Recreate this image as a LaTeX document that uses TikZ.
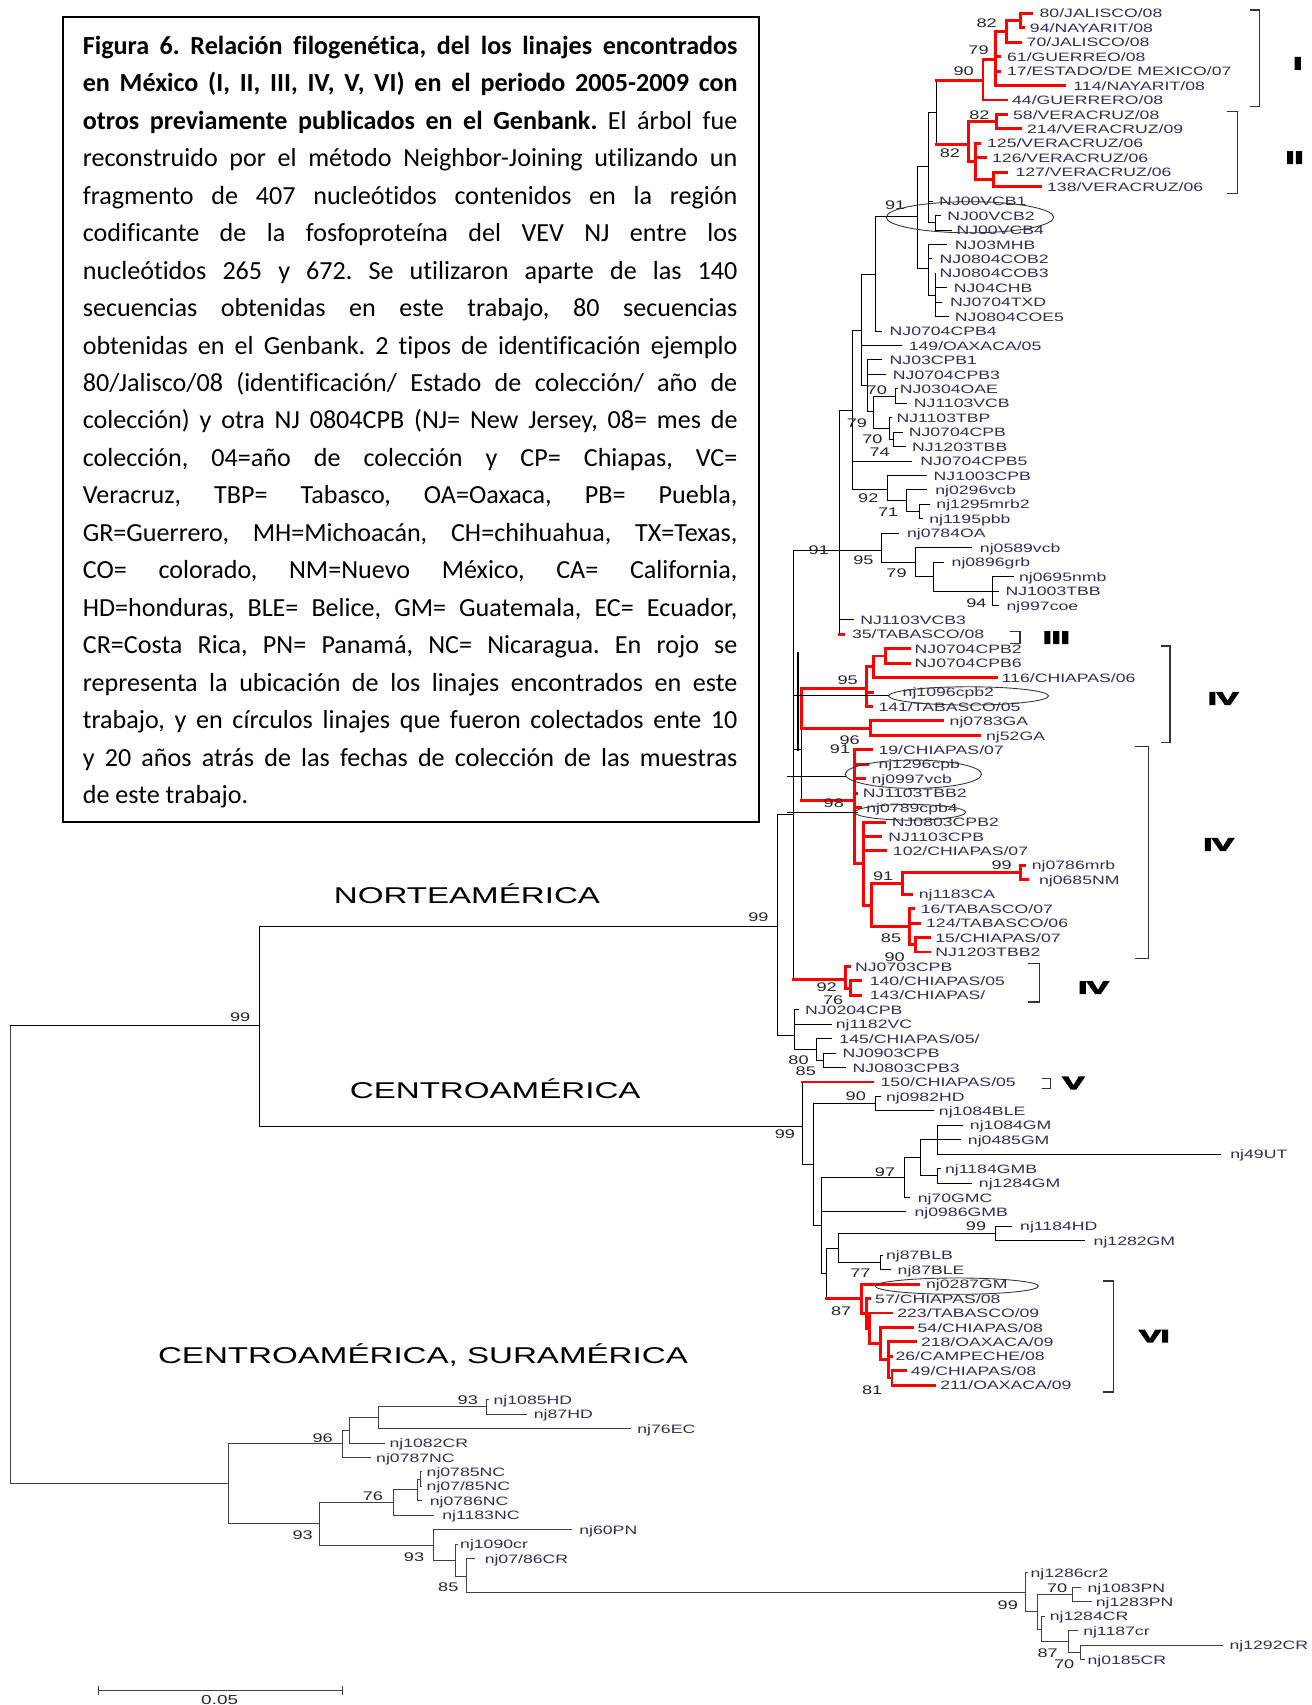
\documentclass[tikz,border=0pt]{standalone}
\usepackage{fontspec}
\setmainfont{Carlito}[Ligatures={NoCommon}]
\newfontfamily\treefont[FakeStretch=1.45]{Liberation Sans}
\newfontfamily\grpfont[FakeStretch=1.9, BoldFeatures={FakeBold=9}]{Liberation Sans}
\definecolor{labtxt}{RGB}{52,46,84}
\frenchspacing
\tikzset{
 br/.style={draw=black, line width=0.85pt, line cap=rect},
 gbr/.style={draw=black!75, line width=0.85pt, line cap=rect},
 rb/.style={draw=red, line width=2.7pt, line cap=rect},
 lab/.style={anchor=base west, inner sep=0pt, text=labtxt, font=\treefont\fontsize{11.2}{12}\selectfont},
 bs/.style={inner sep=0pt, text=black!85, font=\treefont\fontsize{11.5}{12}\selectfont},
 grp/.style={inner sep=0pt, font=\grpfont\bfseries\fontsize{15.5}{16}\selectfont},
 reg/.style={inner sep=0pt, font=\treefont\fontsize{21}{24}\selectfont},
 brk/.style={draw=black!80, line width=1.2pt},
 ell/.style={draw=black!80, line width=0.8pt},
 capl/.style={anchor=base west, inner sep=0pt, font=\fontsize{24}{28}\selectfont},
}
\newcommand\LeafB[5]{\draw[br] (#2,#1) -- (#3,#1); \node[lab] (l#1) at (#4,#1+0.32) {#5};}
\newcommand\LeafG[5]{\draw[gbr] (#2,#1) -- (#3,#1); \node[lab] (l#1) at (#4,#1+0.32) {#5};}
\newcommand\LeafR[5]{\draw[rb] (#2,#1) -- (#3,#1); \node[lab] (l#1) at (#4,#1+0.32) {#5};}
\newcommand\Vb[3]{\draw[br] (#1,#2) -- (#1,#3);}
\newcommand\Hb[3]{\draw[br] (#2,#1) -- (#3,#1);}
\newcommand\Vg[3]{\draw[gbr] (#1,#2) -- (#1,#3);}
\newcommand\Hg[3]{\draw[gbr] (#2,#1) -- (#3,#1);}
\newcommand\Vr[3]{\draw[rb] (#1,#2) -- (#1,#3);}
\newcommand\Hr[3]{\draw[rb] (#2,#1) -- (#3,#1);}
\newcommand\jl[1]{\makebox[602pt][s]{#1}}
\begin{document}
\begin{tikzpicture}[x=1pt,y=-1pt]
\useasboundingbox (0,0) rectangle (1206,1568);
\fill[white] (0,0) rectangle (1206,1568);

% ---------- caption ----------
\node[draw=black, line width=1.5pt, minimum width=640pt, minimum height=740pt, anchor=north west, inner sep=0pt] (capbox) at (57,15) {};
\node[capl] (c1) at (76,50) {\jl{\textbf{Figura 6. Relación filogenética, del los linajes encontrados}}};
\node[capl] (c2) at (76,84.45) {\jl{\textbf{en México (I, II, III, IV, V, VI) en el periodo 2005-2009 con}}};
\node[capl] (c3) at (76,118.9) {\jl{\textbf{otros previamente publicados en el Genbank.} El árbol fue}};
\node[capl] (c4) at (76,153.35) {\jl{reconstruido por el método Neighbor-Joining utilizando un}};
\node[capl] (c5) at (76,187.8) {\jl{fragmento de 407 nucleótidos contenidos en la región}};
\node[capl] (c6) at (76,222.25) {\jl{codificante de la fosfoproteína del VEV NJ entre los}};
\node[capl] (c7) at (76,256.7) {\jl{nucleótidos 265 y 672. Se utilizaron aparte de las 140}};
\node[capl] (c8) at (76,291.15) {\jl{secuencias obtenidas en este trabajo, 80 secuencias}};
\node[capl] (c9) at (76,325.6) {\jl{obtenidas en el Genbank. 2 tipos de identificación ejemplo}};
\node[capl] (c10) at (76,360.05) {\jl{80/Jalisco/08 (identificación/ Estado de colección/ año de}};
\node[capl] (c11) at (76,394.5) {\jl{colección) y otra NJ 0804CPB (NJ= New Jersey, 08= mes de}};
\node[capl] (c12) at (76,428.95) {\jl{colección, 04=año de colección y CP= Chiapas, VC=}};
\node[capl] (c13) at (76,463.4) {\jl{Veracruz, TBP= Tabasco, OA=Oaxaca, PB= Puebla,}};
\node[capl] (c14) at (76,497.85) {\jl{GR=Guerrero, MH=Michoacán, CH=chihuahua, TX=Texas,}};
\node[capl] (c15) at (76,532.3) {\jl{CO= colorado, NM=Nuevo México, CA= California,}};
\node[capl] (c16) at (76,566.75) {\jl{HD=honduras, BLE= Belice, GM= Guatemala, EC= Ecuador,}};
\node[capl] (c17) at (76,601.2) {\jl{CR=Costa Rica, PN= Panamá, NC= Nicaragua. En rojo se}};
\node[capl] (c18) at (76,635.65) {\jl{representa la ubicación de los linajes encontrados en este}};
\node[capl] (c19) at (76,670.1) {\jl{trabajo, y en círculos linajes que fueron colectados ente 10}};
\node[capl] (c20) at (76,704.55) {\jl{y 20 años atrás de las fechas de colección de las muestras}};
\node[capl] (c21) at (76,739) {de este trabajo.};

% ---------- tree (x in px, y in rows) ----------
\begin{scope}[x=1pt, y=-13.28pt, yshift=0.98pt]
% root and backbone
\Vg{9.8}{71.1}{102.8}
\Hb{71.1}{9.8}{238.2}
\Vb{238.2}{64.2}{78.05}
\Hb{64.2}{238.2}{715.2}
\Hb{78.05}{238.2}{737.7}
\Hg{102.8}{9.8}{210.3}
% L and M
\Vb{715.2}{56.5}{71.8}
\Hb{56.5}{715.2}{730}
\Hb{71.8}{715.2}{731}
\Vb{730}{38.2}{67.9}
\Hb{38.2}{730}{772.1}
\draw[br, line width=2pt] (733.6,45.3) -- (733.6,52);
\Hb{52}{730}{737}
\Vb{737}{50.5}{55.5}
\Vr{737}{47.75}{50.5}
\Hr{47.75}{737}{796.6}
\Hr{50.5}{737}{800.7}
\Hr{55.5}{737}{785.4}
\Hr{67.9}{730}{777.9}
% P
\Vb{772.1}{28.5}{44}
\Hb{28.5}{772.1}{784.4}
\Hb{38.2}{772.1}{811}
\LeafB{43}{772.1}{784.6}{791}{NJ1103VCB3}
\LeafR{44}{772.1}{776}{783.4}{35/TABASCO/08}
% Q
\Vb{784.4}{22.95}{34}
\Hb{22.95}{784.4}{792.6}
\LeafB{32}{784.4}{838.7}{846.3}{NJ0704CPB5}
\Hb{34}{784.4}{816.3}
% W
\Vb{792.6}{19.1}{26.8}
\Hb{19.1}{792.6}{805}
\LeafB{24}{792.6}{829.5}{835.6}{149/OAXACA/05}
\Hb{26.8}{792.6}{797.5}
% Z
\Vb{805}{15.03}{23}
\Hb{15.03}{805}{843.8}
\LeafB{23}{805}{811}{818}{NJ0704CPB4}
% Y
\Vb{843.8}{11.6}{18.66}
\Hb{11.6}{843.8}{854}
\Hb{18.66}{843.8}{854}
% X
\Vb{854}{7.87}{15.5}
\Hb{7.87}{854}{861.6}
\LeafB{14}{854}{858}{863.5}{NJ00VCB1}
\Hb{15.5}{854}{860}
\Vb{860}{15}{16}
\LeafB{15}{860}{865}{871}{NJ00VCB2}
\LeafB{16}{860}{875}{879.5}{NJ00VCB4}
% COB
\Vb{854}{17}{20.5}
\LeafB{17}{854}{870.8}{878}{NJ03MHB}
\LeafB{18}{854}{857}{864}{NJ0804COB2}
\Hb{20.5}{854}{860}
\Vb{860}{19}{22}
\LeafB{19}{860}{860}{864}{NJ0804COB3}
\LeafB{20}{860}{870.8}{877}{NJ04CHB}
\LeafB{21}{860}{866}{873.5}{NJ0704TXD}
\LeafB{22}{860}{872}{878}{NJ0804COE5}
% I+II
\Vb{861.6}{5.68}{10.05}
\Hr{5.68}{861.6}{904}
\Hr{10.05}{861.6}{890.8}
% clade I
\Vr{904}{4.2}{7}
\Hr{4.2}{904}{915.3}
\LeafR{7}{904}{926}{930.6}{44/GUERRERO/08}
\Vr{915.3}{2.25}{6}
\Hr{2.25}{915.3}{926}
\LeafR{4}{915.3}{919}{926}{61/GUERREO/08}
\LeafR{5}{915.3}{919}{926}{17/ESTADO/DE MEXICO/07}
\LeafR{6}{915.3}{978.9}{987}{114/NAYARIT/08}
\Vr{926}{1.5}{3}
\Hr{1.5}{926}{938.3}
\LeafR{3}{926}{938.3}{944}{70/JALISCO/08}
\Vr{938.3}{1}{2}
\LeafR{1}{938.3}{949}{955.9}{80/JALISCO/08}
\LeafR{2}{938.3}{941}{947}{94/NAYARIT/08}
% clade II
\Vr{890.8}{8.5}{11.25}
\Hr{8.5}{890.8}{916.8}
\Hr{11.25}{890.8}{896.9}
\Vr{916.8}{8}{9}
\LeafR{8}{916.8}{926}{931.5}{58/VERACRUZ/08}
\LeafR{9}{916.8}{938.3}{944.4}{214/VERACRUZ/09}
\Vr{896.9}{10}{12.5}
\LeafR{10}{896.9}{901}{907.6}{125/VERACRUZ/06}
\LeafR{11}{896.9}{906}{912.2}{126/VERACRUZ/06}
\Hr{12.5}{896.9}{913.7}
\Vr{913.7}{12}{13}
\LeafR{12}{913.7}{926}{933.7}{127/VERACRUZ/06}
\LeafR{13}{913.7}{956.7}{962.8}{138/VERACRUZ/06}
% S5 group
\Vb{797.5}{25}{28.6}
\LeafB{25}{797.5}{811}{818}{NJ03CPB1}
\LeafB{26}{797.5}{814}{821}{NJ0704CPB3}
\Hb{28.6}{797.5}{803.4}
\Vb{803.4}{27.5}{29.75}
\Hb{27.5}{803.4}{823.3}
\Hb{29.75}{803.4}{818}
\Vb{823.3}{27}{28}
\LeafB{27}{823.3}{825}{827.3}{NJ0304OAE}
\LeafB{28}{823.3}{834}{840.2}{NJ1103VCB}
\Vb{818}{29}{30.5}
\LeafB{29}{818}{820}{824.3}{NJ1103TBP}
\Hb{30.5}{818}{821.8}
\Vb{821.8}{30}{31}
\LeafB{30}{821.8}{830}{835.6}{NJ0704CPB}
\LeafB{31}{821.8}{833}{838.6}{NJ1203TBB}
% T
\Vb{816.3}{33}{34.75}
\LeafB{33}{816.3}{852.5}{858.5}{NJ1003CPB}
\Hb{34.75}{816.3}{834}
\Vb{834}{34}{35.5}
\LeafB{34}{834}{852.5}{860}{nj0296vcb}
\Hb{35.5}{834}{845.7}
\Vb{845.7}{35}{36}
\LeafB{35}{845.7}{855}{861}{nj1295mrb2}
\LeafB{36}{845.7}{848}{854.5}{nj1195pbb}
% R95
\Vb{811}{37}{39}
\LeafB{37}{811}{826.4}{834}{nj0784OA}
\Hb{39}{811}{841.7}
\Vb{841.7}{38}{40}
\LeafB{38}{841.7}{893.8}{901}{nj0589vcb}
\Hb{40}{841.7}{858.6}
\Vb{858.6}{39}{41}
\LeafB{39}{858.6}{867.8}{875}{nj0896grb}
\Hb{41}{858.6}{913.1}
\Vb{913.1}{40}{42}
\LeafB{40}{913.1}{932}{937}{nj0695nmb}
\LeafB{41}{913.1}{918}{924.5}{NJ1003TBB}
\LeafB{42}{913.1}{918}{925.5}{nj997coe}
% IV (first)
\Vr{796.6}{46.25}{49}
\Hr{46.25}{796.6}{802.9}
\Vr{802.9}{45.5}{47}
\Hr{45.5}{802.9}{814.7}
\Vr{814.7}{45}{46}
\LeafR{45}{814.7}{836.5}{841}{NJ0704CPB2}
\LeafR{46}{814.7}{836.5}{841}{NJ0704CPB6}
\LeafR{47}{802.9}{916.3}{921}{116/CHIAPAS/06}
\LeafR{48}{796.6}{802}{830}{nj1096cpb2}
\LeafR{49}{796.6}{801.8}{807.7}{141/TABASCO/05}
\Vr{800.7}{50}{51}
\LeafR{50}{800.7}{866.8}{873.2}{nj0783GA}
\LeafR{51}{800.7}{900.4}{906.7}{nj52GA}
% IV (second)
\Vr{785.4}{52}{59.9}
\LeafR{52}{785.4}{801.3}{807.7}{19/CHIAPAS/07}
\LeafR{53}{785.4}{798}{807.7}{nj1296cpb}
\LeafR{54}{785.4}{795}{801.3}{nj0997vcb}
\LeafR{55}{785.4}{788}{793.4}{NJ1103TBB2}
\LeafR{56}{785.4}{791}{796.6}{nj0789cpb4}
\Hr{59.9}{785.4}{794.4}
\Vr{794.4}{57}{62.75}
\LeafR{57}{794.4}{813.5}{820}{NJ0803CPB2}
\LeafR{58}{794.4}{810}{816.7}{NJ1103CPB}
\LeafR{59}{794.4}{814.7}{821}{102/CHIAPAS/07}
\Hr{62.75}{794.4}{801.2}
\Vr{801.2}{61.25}{64.25}
\Hr{61.25}{801.2}{829.8}
\Hr{64.25}{801.2}{836.5}
\Vr{829.8}{60.5}{62}
\Hr{60.5}{829.8}{938.6}
\LeafR{62}{829.8}{838.2}{844.8}{nj1183CA}
\Vr{938.6}{60}{61}
\LeafR{60}{938.6}{942}{948.7}{nj0786mrb}
\LeafR{61}{938.6}{945.4}{955.4}{nj0685NM}
\Vr{836.5}{63}{65.5}
\LeafR{63}{836.5}{840}{846.6}{16/TABASCO/07}
\LeafR{64}{836.5}{846}{851.5}{124/TABASCO/06}
\Hr{65.5}{836.5}{842}
\Vr{842}{65}{66}
\LeafR{65}{842}{855}{860}{15/CHIAPAS/07}
\LeafR{66}{842}{855}{860}{NJ1203TBB2}
% IV (third)
\Vr{777.9}{67}{68.5}
\LeafR{67}{777.9}{781}{786.2}{NJ0703CPB}
\Hr{68.5}{777.9}{781.9}
\Vr{781.9}{68}{69}
\LeafR{68}{781.9}{791.3}{799.7}{140/CHIAPAS/05}
\LeafR{69}{781.9}{791.3}{799.7}{143/CHIAPAS/}
% G
\Vb{731}{70}{72.75}
\LeafB{70}{731}{734}{740.3}{NJ0204CPB}
\LeafB{71}{731}{764.4}{768.5}{nj1182VC}
\Hb{72.75}{731}{751.1}
\Vb{751.1}{72}{73.5}
\LeafB{72}{751.1}{764.4}{771.8}{145/CHIAPAS/05/}
\Hb{73.5}{751.1}{757.1}
\Vb{757.1}{73}{74}
\LeafB{73}{757.1}{768.5}{774.6}{NJ0903CPB}
\LeafB{74}{757.1}{777.9}{784}{NJ0803CPB3}
% Centroamerica
\Vb{737.7}{75}{80.7}
\LeafR{75}{737.7}{802}{809.7}{150/CHIAPAS/05}
\Hb{80.7}{737.7}{747.7}
\Vb{747.7}{76.5}{84.95}
\Hb{76.5}{747.7}{805.3}
\Vb{805.3}{76}{77}
\LeafB{76}{805.3}{810}{814.7}{nj0982HD}
\LeafB{77}{805.3}{858.2}{863.3}{nj1084BLE}
\Hb{84.95}{747.7}{755.1}
\Vb{755.1}{81.6}{88.25}
\Hb{81.6}{755.1}{832.1}
\LeafB{84}{755.1}{833.2}{840.9}{nj0986GMB}
\Hb{88.25}{755.1}{760.5}
\Vb{832.1}{80.25}{83}
\Hb{80.25}{832.1}{846.6}
\LeafB{83}{832.1}{836}{843.8}{nj70GMC}
\Vb{846.6}{79}{81.5}
\Hb{79}{846.6}{862.3}
\Hb{81.5}{846.6}{862.3}
\Vb{862.3}{78}{80}
\LeafB{78}{862.3}{885}{891.8}{nj1084GM}
\LeafB{79}{862.3}{883.4}{890}{nj0485GM}
\LeafB{80}{862.3}{1122.9}{1131.3}{nj49UT}
\Vb{862.3}{81}{82}
\LeafB{81}{862.3}{865}{869}{nj1184GMB}
\LeafB{82}{862.3}{893.4}{900.1}{nj1284GM}
\Vb{760.5}{86.5}{90}
\Hb{86.5}{760.5}{771.1}
\Hr{90}{760.5}{792.3}
\Vb{771.1}{85.5}{87.5}
\Hb{85.5}{771.1}{915.2}
\Hb{87.5}{771.1}{809.7}
\Vb{915.2}{85}{86}
\LeafB{85}{915.2}{930.3}{938}{nj1184HD}
\LeafB{86}{915.2}{997.3}{1005.6}{nj1282GM}
\Vb{809.7}{87}{88}
\LeafB{87}{809.7}{812}{814.7}{nj87BLB}
\LeafB{88}{809.7}{818.7}{825.4}{nj87BLE}
% clade VI
\Vr{792.3}{89}{91.03}
\LeafR{89}{792.3}{844.8}{851.5}{nj0287GM}
\Hr{91.03}{792.3}{797}
\Vr{797}{90}{92.06}
\LeafR{90}{797}{800}{804.7}{57/CHIAPAS/08}
\Hr{92.06}{797}{800}
\Vr{800}{91}{93.1}
\LeafR{91}{800}{820.3}{825}{223/TABASCO/09}
\Hr{93.1}{800}{809.4}
\Vr{809.4}{92}{94.25}
\LeafR{92}{809.4}{838.9}{843.7}{54/CHIAPAS/08}
\Hr{94.25}{809.4}{817.2}
\Vr{817.2}{93}{95.5}
\LeafR{93}{817.2}{842.2}{846.8}{218/OAXACA/09}
\LeafR{94}{817.2}{820}{823.4}{26/CAMPECHE/08}
\Hr{95.5}{817.2}{820.3}
\Vr{820.3}{95}{96}
\LeafR{95}{820.3}{832.8}{837.5}{49/CHIAPAS/08}
\LeafR{96}{820.3}{859.2}{864.5}{211/OAXACA/09}
% Centroamerica-Suramerica
\Vg{210.3}{100.06}{105.6}
\Hg{100.06}{210.3}{315.4}
\Hg{105.6}{210.3}{293.6}
\Vg{315.4}{99.1}{101}
\Hg{99.1}{315.4}{321.1}
\LeafG{101}{315.4}{340.8}{345.8}{nj0787NC}
\Vg{321.1}{98.25}{100}
\Hg{98.25}{321.1}{348.3}
\LeafG{100}{321.1}{353.2}{358.1}{nj1082CR}
\Vg{348.3}{97.5}{99}
\Hg{97.5}{348.3}{447.6}
\LeafG{99}{348.3}{580}{586}{nj76EC}
\Vg{447.6}{97}{98}
\LeafG{97}{447.6}{449}{453.8}{nj1085HD}
\LeafG{98}{447.6}{484.6}{490.8}{nj87HD}
\Vg{293.6}{104.1}{107.1}
\Hg{104.1}{293.6}{361.4}
\Hg{107.1}{293.6}{398.3}
\Vg{361.4}{103.25}{105}
\Hg{103.25}{361.4}{384}
\LeafG{105}{361.4}{398.3}{406.6}{nj1183NC}
\Vg{384}{102.5}{104}
\Hg{102.5}{384}{386.5}
\LeafG{104}{384}{388}{395.1}{nj0786NC}
\Vg{386.5}{102}{103}
\LeafG{102}{386.5}{388}{392.2}{nj0785NC}
\LeafG{103}{386.5}{388}{392.2}{nj07/85NC}
\Vg{398.3}{106}{108.15}
\LeafG{106}{398.3}{525.6}{532.6}{nj60PN}
\Hg{108.15}{398.3}{419.2}
\Vg{419.2}{107}{109.25}
\LeafG{107}{419.2}{421}{423}{nj1090cr}
\Hg{109.25}{419.2}{429.2}
\Vg{429.2}{108}{110.35}
\LeafG{108}{429.2}{436}{445.6}{nj07/86CR}
\Hg{110.35}{429.2}{943}
\Vg{943}{109}{111.7}
\LeafG{109}{943}{945}{947.6}{nj1286cr2}
\Hg{111.7}{943}{953.7}
\Vg{953.7}{110.5}{112.9}
\Hg{110.5}{953.7}{986}
\Hg{112.9}{953.7}{957.6}
\Vg{986}{110}{111}
\LeafG{110}{986}{994}{1000}{nj1083PN}
\LeafG{111}{986}{1003.7}{1007.6}{nj1283PN}
\Vg{957.6}{112}{113.75}
\LeafG{112}{957.6}{961}{965.3}{nj1284CR}
\Hg{113.75}{957.6}{983}
\Vg{983}{113}{114.5}
\LeafG{113}{983}{991}{996}{nj1187cr}
\Hg{114.5}{983}{993.7}
\Vg{993.7}{114}{115}
\LeafG{114}{993.7}{1124.5}{1130.6}{nj1292CR}
\LeafG{115}{993.7}{997}{1000}{nj0185CR}
\end{scope}

% ---------- annotation lines and circles ----------
\draw[br] (729.5,639.3) -- (817.3,639.3);
\draw[br] (724,714.5) -- (777.4,714.5);
\draw[br] (724,747.3) -- (788.5,747.3);
\draw[ell] (892,199.8) ellipse [x radius=77pt, y radius=14.3pt];
\draw[ell] (890.8,640) ellipse [x radius=73.5pt, y radius=8.4pt];
\draw[ell] (840,712) ellipse [x radius=62.6pt, y radius=13pt];
\draw[ell] (837,747) ellipse [x radius=51pt, y radius=7.2pt];
\draw[ell] (880,1182.8) ellipse [x radius=75pt, y radius=7.5pt];

% ---------- bootstrap values ----------
\node[bs] (b1) at (907.3,21.5) {82};
\node[bs] (b2) at (899.9,46.6) {79};
\node[bs] (b3) at (886.2,65.9) {90};
\node[bs] (b4) at (900.7,105.8) {82};
\node[bs] (b5) at (873.6,141) {82};
\node[bs] (b6) at (823.2,188.6) {91};
\node[bs] (b7) at (806.3,358.8) {70};
\node[bs] (b8) at (788.1,388.8) {79};
\node[bs] (b9) at (802.3,404.1) {70};
\node[bs] (b10) at (809,415.5) {74};
\node[bs] (b11) at (798.5,458) {92};
\node[bs] (b12) at (816.8,470.7) {71};
\node[bs] (b13) at (753,505.9) {91};
\node[bs] (b14) at (794,515) {95};
\node[bs] (b15) at (824.5,527.4) {79};
\node[bs] (b16) at (898,554.4) {94};
\node[bs] (b17) at (779.5,625.5) {95};
\node[bs] (b18) at (781.4,680.7) {96};
\node[bs] (b19) at (772.5,689.3) {91};
\node[bs] (b20) at (766.8,739) {98};
\node[bs] (b21) at (812.2,805.8) {91};
\node[bs] (b22) at (921.1,795.7) {99};
\node[bs] (b23) at (819.4,863.2) {85};
\node[bs] (b24) at (822.8,880) {90};
\node[bs] (b25) at (760.3,907.6) {92};
\node[bs] (b26) at (766.2,920) {76};
\node[bs] (b27) at (697.5,843.2) {99};
\node[bs] (b28) at (734.4,975) {80};
\node[bs] (b29) at (741,985) {85};
\node[bs] (b30) at (787,1008.2) {90};
\node[bs] (b31) at (721.8,1042.7) {99};
\node[bs] (b32) at (813.9,1077.8) {97};
\node[bs] (b33) at (897.6,1127.8) {99};
\node[bs] (b34) at (791.2,1171.3) {77};
\node[bs] (b35) at (773.6,1205.7) {87};
\node[bs] (b36) at (802.1,1278.6) {81};
\node[bs] (b37) at (220.8,935.2) {99};
\node[bs] (b38) at (430.2,1287.8) {93};
\node[bs] (b39) at (296.8,1322.2) {96};
\node[bs] (b40) at (342.9,1376.2) {76};
\node[bs] (b41) at (278.3,1412) {93};
\node[bs] (b42) at (380.8,1432) {93};
\node[bs] (b43) at (412.3,1459.5) {85};
\node[bs] (b44) at (926.8,1475.8) {99};
\node[bs] (b45) at (972.2,1461) {70};
\node[bs] (b46) at (963.4,1520.3) {87};
\node[bs] (b47) at (978.7,1530.7) {70};

% ---------- lineage brackets ----------
\draw[brk] (1149.2,9.2) -- (1158.4,9.2) -- (1158.4,98.1) -- (1149.2,98.1);
\draw[brk] (1128.4,102.7) -- (1138.2,102.7) -- (1138.2,177.8) -- (1128.4,177.8);
\draw[brk] (929,581) -- (938,581) -- (938,591.8) -- (929,591.8);
\draw[brk] (1068,594.2) -- (1076,594.2) -- (1076,683.1) -- (1068,683.1);
\draw[brk] (1043.4,686.8) -- (1056,686.8) -- (1056,881.6) -- (1043.4,881.6);
\draw[brk] (945.4,886.2) -- (956,886.2) -- (956,921.4) -- (945.4,921.4);
\draw[brk] (958,992) -- (966.2,992) -- (966.2,1001.1) -- (958,1001.1);
\draw[brk] (1014.5,1178) -- (1024.1,1178) -- (1024.1,1280.2) -- (1014.5,1280.2);
\node[grp] (g1) at (1193.5,58.3) {I};
\node[grp] (g2) at (1190.5,145) {II};
\node[grp] (g3) at (971.4,586.4) {III};
\node[grp] (g4) at (1124.8,642.4) {IV};
\node[grp] (g5) at (1120.6,776.6) {IV};
\node[grp] (g6) at (1005.6,908.3) {IV};
\node[grp] (g7) at (987.2,996) {V};
\node[grp] (g8) at (1061.7,1228.8) {VI};

% ---------- region labels ----------
\node[reg] (r1) at (429.4,822) {NORTEAMÉRICA};
\node[reg] (r2) at (455.4,1001.5) {CENTROAMÉRICA};
\node[reg] (r3) at (389,1246) {CENTROAMÉRICA, SURAMÉRICA};

% ---------- scale bar ----------
\coordinate (sbA) at (90.8,1554.6);
\coordinate (sbB) at (315.4,1554.6);
\draw[gbr] (sbA) -- (sbB);
\draw[gbr] ([yshift=3.5pt]sbA) -- ([yshift=-3.5pt]sbA);
\draw[gbr] ([yshift=3.5pt]sbB) -- ([yshift=-3.5pt]sbB);
\node[bs, font=\treefont\fontsize{12}{13}\selectfont] (sbl) at (202,1563.2) {0.05};
\end{tikzpicture}
\end{document}
